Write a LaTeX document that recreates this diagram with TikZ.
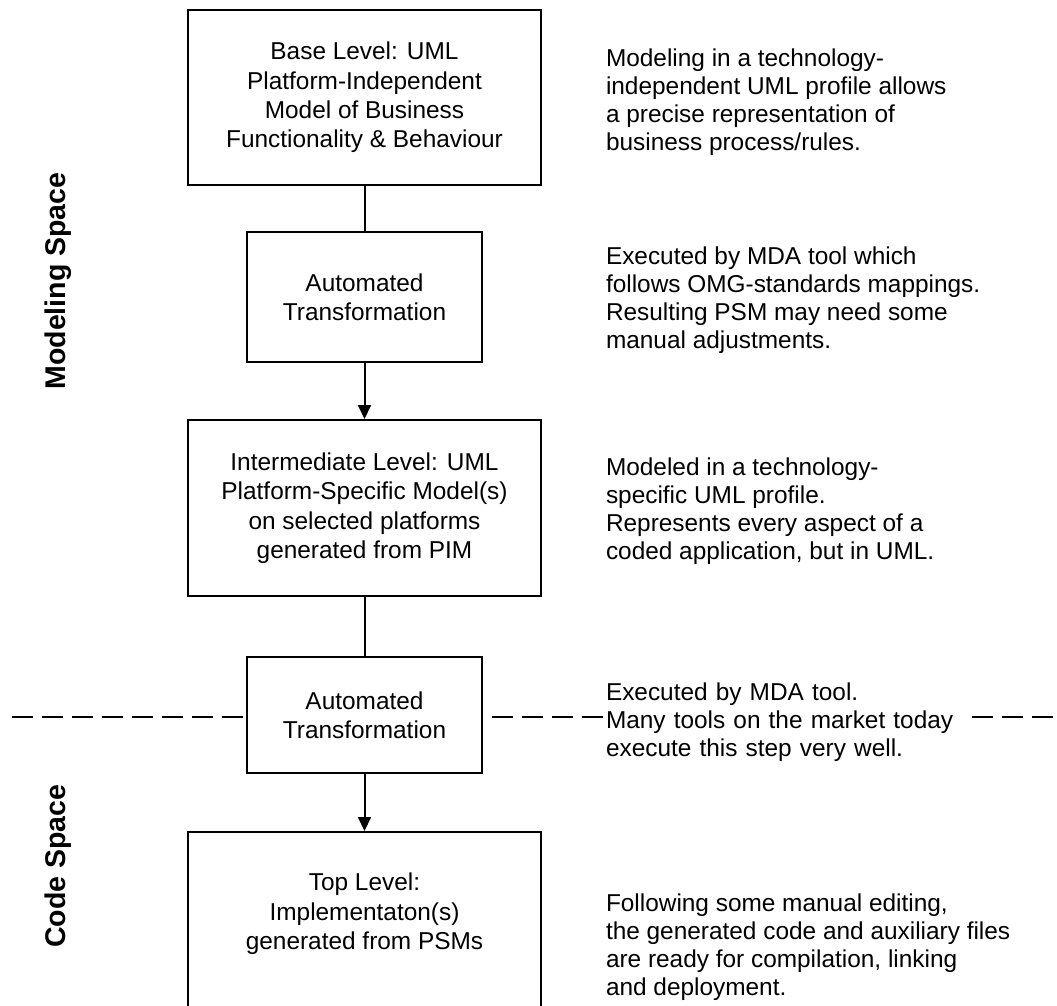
\documentclass[tikz,border=0pt]{standalone}
\usepackage{fontspec}
\setmainfont{Liberation Sans}
\usepackage{tikz}
\usetikzlibrary{arrows.meta, positioning}

\begin{document}
\begin{tikzpicture}[x=1pt, y=-1pt, line width=2pt,
    boxfont/.style={font=\fontsize{24.4}{29.4}\selectfont},
    level/.style={draw, fill=white, boxfont, align=center, minimum width=353pt, inner sep=0pt},
    trans/.style={level, minimum width=235pt},
    note/.style={anchor=west, align=left, inner sep=2pt,
                 font=\fontsize{24.4}{28.2}\selectfont},
    space/.style={rotate=90, font=\fontsize{28.5}{34}\selectfont\bfseries},
    flow/.style={-{Triangle[length=14pt, width=13pt]}},
    split/.style={dash pattern=on 21pt off 9pt}]
  \useasboundingbox (0,0) rectangle (1057,1006);
  \def\cx{364.5}
  % --- modeling / code border, drawn first so boxes and notes cover it ---
  \draw[split] (12,717) -- (1057,717);
  % --- the five levels of the chain ---
  \node[level, minimum height=175pt] (base) at (\cx,97.5)
    {Base Level: UML\\Platform-Independent\\Model of Business\\Functionality \& Behaviour};
  \node[trans, minimum height=130pt] (auto1) at (\cx,297) {Automated\\Transformation};
  \node[level, minimum height=176pt] (inter) at (\cx,508)
    {Intermediate Level: UML\\Platform-Specific Model(s)\\on selected platforms\\generated from PIM};
  \node[trans, minimum height=116pt] (auto2) at (\cx,715) {Automated\\Transformation};
  \node[level, minimum height=185pt, anchor=north] (top) at (\cx,831) {};
  \node[boxfont, align=center] (toptext) at (\cx,914)
    {Top Level:\\Implementaton(s)\\generated from PSMs};
  % --- connectors ---
  \draw (base) -- (auto1);
  \draw[flow] (auto1) -- (inter);
  \draw (inter) -- (auto2);
  \draw[flow] (auto2) -- (top);
  % --- notes on the right ---
  \node[note] (n1) at (603,102) {Modeling in a technology-\\independent UML profile allows\\a precise representation of\\business process/rules.};
  \node[note] (n2) at (603,300) {Executed by MDA tool which\\follows OMG-standards mappings.\\Resulting PSM may need some\\manual adjustments.};
  \node[note] (n3) at (603,511) {Modeled in a technology-\\specific UML profile.\\Represents every aspect of a\\coded application, but in UML.};
  \node[note, fill=white, text width=360pt] (n4) at (603,722) {Executed by MDA tool.\\Many tools on the market today\\execute this step very well.};
  \node[note] (n5) at (603,947) {Following some manual editing,\\the generated code and auxiliary files\\are ready for compilation, linking\\and deployment.};
  % --- space labels ---
  \node[space] (modeling) at (58,281) {Modeling Space};
  \node[space] (code) at (58,866) {Code Space};
\end{tikzpicture}
\end{document}
